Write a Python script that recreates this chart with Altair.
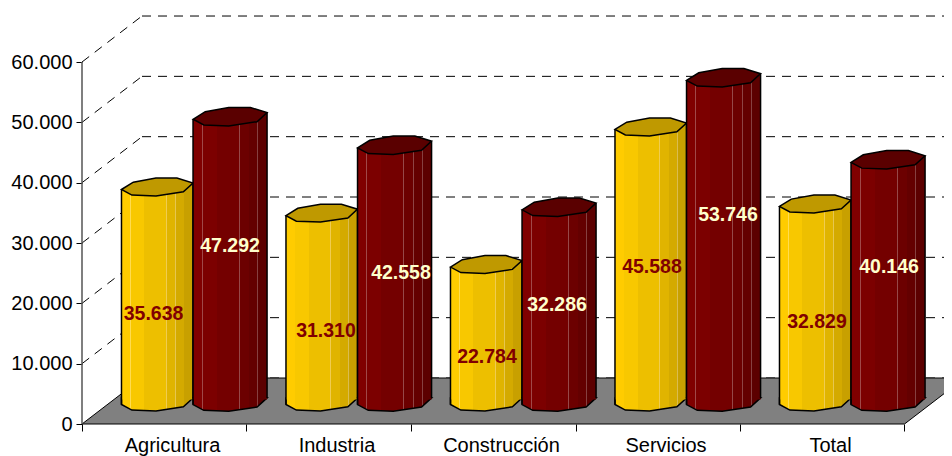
import altair as alt
import pandas as pd

categories = ["Agricultura", "Industria", "Construcción", "Servicios", "Total"]
series_a = [35638, 31310, 22784, 45588, 32829]
series_b = [47292, 42558, 32286, 53746, 40146]
label_anchor_a = [18200, 15400, 11100, 26000, 16900]
label_anchor_b = [29500, 25000, 19700, 34600, 26000]
label_x_a = [0.435, 1.483, 2.462, 3.465, 4.468]
label_x_b = [0.900, 1.939, 2.888, 3.927, 4.906]
tick_values = [0, 10000, 20000, 30000, 40000, 50000, 60000]

PX = 6.033 / 1000  # pixels per unit of value
PLOT_W, PLOT_H = 862, 416
CAT_W = 164.5
Y_MAX = PLOT_H / PX
X_MAX = PLOT_W / CAT_W
DEPTH_X = 60 / CAT_W
WALL = 46 / PX
BASE = 22 / PX

x_scale = alt.Scale(domain=[0, X_MAX], range=[0, PLOT_W], nice=False, zero=False)
y_scale = alt.Scale(domain=[0, Y_MAX], range=[PLOT_H, 0], nice=False, zero=False)

x_axis = alt.Axis(
    values=[0, 1, 2, 3, 4, 5], title=None, domain=False, grid=False,
    tickSize=7, tickColor="#000000", tickWidth=1,
    labelExpr="['Agricultura','Industria','Construcción','Servicios','Total',''][datum.value]",
    labelOffset=90, labelBound=False, labelFlush=False, labelOverlap=False,
    labelFont="Liberation Sans", labelFontSize=20, labelColor="#000000", labelPadding=4,
)
y_axis = alt.Axis(
    values=tick_values, title=None, domain=False, grid=False,
    tickSize=6, tickColor="#000000", tickWidth=1,
    labelExpr="replace(format(datum.value, ','), ',', '.')",
    labelFont="Liberation Sans", labelFontSize=20, labelColor="#000000", labelPadding=4,
)


def X(field="x"):
    return alt.X(field, type="quantitative", scale=x_scale, axis=x_axis)


def Y(field="y"):
    return alt.Y(field, type="quantitative", scale=y_scale, axis=y_axis)


def gradient(cols):
    stops = []
    for a, b, c in cols:
        stops.append(alt.GradientStop(color=c, offset=a))
        stops.append(alt.GradientStop(color=c, offset=b))
    return alt.Gradient(gradient="linear", stops=stops, x1=0, x2=1, y1=0, y2=0)


YEL = gradient([
    (0, .12, "#FFCC00"), (.12, .13, "#FFDC50"), (.13, .32, "#F8C800"),
    (.32, .62, "#EDBF00"), (.62, .63, "#F0CC50"), (.63, .75, "#E0B400"),
    (.75, .76, "#E6C650"), (.76, .87, "#D4AA00"), (.87, .88, "#DABC50"), (.88, 1, "#C8A000"),
])
RED = gradient([
    (0, .12, "#800000"), (.12, .13, "#A04848"), (.13, .32, "#7C0000"),
    (.32, .62, "#740000"), (.62, .63, "#964848"), (.63, .75, "#6C0000"),
    (.75, .76, "#8E4444"), (.76, .87, "#640000"), (.87, .88, "#864040"), (.88, 1, "#5C0000"),
])

TOP = "M-1,0.07 L-0.67,-0.135 L-0.036,-0.25 L0.55,-0.25 L1,-0.11 L0.73,0.135 L-0.036,0.25 L-0.71,0.225 Z"
SKIRT = "M-1,0.07 L1,-0.11 L1,0.2 L-1,0.2 Z"
CAP = "M-1,-0.11 L1,-0.11 L0.73,0.135 L-0.036,0.25 L-0.71,0.225 L-1,0.07 Z"

grid_rows = [{"x": DEPTH_X, "x2": 5 + 2 * DEPTH_X, "y": v + WALL} for v in tick_values]
grid = alt.Chart(pd.DataFrame(grid_rows)).mark_rule(
    color="#000000", strokeWidth=1, strokeDash=[9, 7]
).encode(x=X(), x2="x2:Q", y=Y())

side_rows = []
for v in tick_values[1:]:
    side_rows += [{"x": 0, "y": v, "k": v}, {"x": DEPTH_X, "y": v + WALL, "k": v}]
side = alt.Chart(pd.DataFrame(side_rows)).mark_line(
    color="#000000", strokeWidth=1, strokeDash=[9, 7]
).encode(x=X(), y=Y(), detail="k:N")

floor_df = pd.DataFrame({
    "x": [0, DEPTH_X, 5, 5 + DEPTH_X],
    "y": [0, 0, 0, WALL],
    "y2": [0, WALL, WALL, WALL],
})
floor = alt.Chart(floor_df).mark_area(
    color="#808080", stroke="#000000", strokeWidth=1, opacity=1
).encode(x=X(), y=Y(), y2="y2:Q")

y_line = alt.Chart(pd.DataFrame({"x": [0], "y": [0], "y2": [60000]})).mark_rule(
    color="#555555", strokeWidth=1.5
).encode(x=X(), y=Y(), y2="y2:Q")


def cylinders(values, anchors, label_x, start, width, fill, top_fill, label_color):
    w_px = width * CAT_W
    size = w_px ** 2
    half_h = w_px / 2
    df = pd.DataFrame({
        "cat": categories,
        "value": values,
        "anchor": anchors,
        "lx": label_x,
        "x": [i + start for i in range(5)],
        "x2": [i + start + width for i in range(5)],
        "xc": [i + start + width / 2 for i in range(5)],
        "top": [v + BASE for v in values],
        "bar_top": [v + BASE - 0.07 * half_h / PX for v in values],
        "bar_bot": [BASE + 0.11 * half_h / PX - 1.5 / PX] * 5,
        "base": [BASE] * 5,
    })
    df["l_top"] = df["top"] - 0.07 * half_h / PX
    df["l_bot"] = df["base"] - 0.07 * half_h / PX
    df["r_top"] = df["top"] + 0.11 * half_h / PX
    df["r_bot"] = df["base"] + 0.11 * half_h / PX
    base = alt.Chart(df)
    layers = [
        base.mark_point(shape=CAP, size=size, filled=True, fill=fill, stroke="#000000",
                        strokeWidth=1.5, opacity=1).encode(x=X("xc"), y=Y("base")),
        base.mark_bar(fill=fill, opacity=1).encode(x=X("x"), x2="x2:Q", y=Y("bar_top"), y2="bar_bot:Q"),
        base.mark_point(shape=SKIRT, size=size, filled=True, fill=fill, strokeWidth=0,
                        opacity=1).encode(x=X("xc"), y=Y("top")),
        base.mark_rule(color="#000000", strokeWidth=1.5).encode(x=X("x"), y=Y("l_top"), y2="l_bot:Q"),
        base.mark_rule(color="#000000", strokeWidth=1.5).encode(x=X("x2"), y=Y("r_top"), y2="r_bot:Q"),
        base.mark_point(shape=TOP, size=size, filled=True, fill=top_fill, stroke="#000000",
                        strokeWidth=1.5, opacity=1).encode(x=X("xc"), y=Y("top")),
    ]
    labels = base.transform_calculate(
        txt="replace(format(datum.value, ','), ',', '.')"
    ).mark_text(
        font="Liberation Sans", fontSize=19.5, fontWeight="bold", color=label_color,
        align="center", baseline="middle"
    ).encode(x=X("lx"), y=Y("anchor"), text="txt:N")
    return layers, labels


la, ta = cylinders(series_a, label_anchor_a, label_x_a, 0.24, 0.435, YEL, "#BF9900", "#800000")
lb, tb = cylinders(series_b, label_anchor_b, label_x_b, 0.675, 0.45, RED, "#5A0000", "#FFFFCC")

chart = alt.layer(
    grid, side, floor, y_line, *la, *lb, ta, tb
).properties(
    width=PLOT_W, height=PLOT_H,
    padding={"left": 74, "top": 0, "right": 0, "bottom": 32},
    autosize=alt.AutoSizeParams(type="none"),
    background="#FFFFFF",
).configure_view(stroke=None)

chart.save("out.html", embed_options={"renderer": "svg", "actions": False})
